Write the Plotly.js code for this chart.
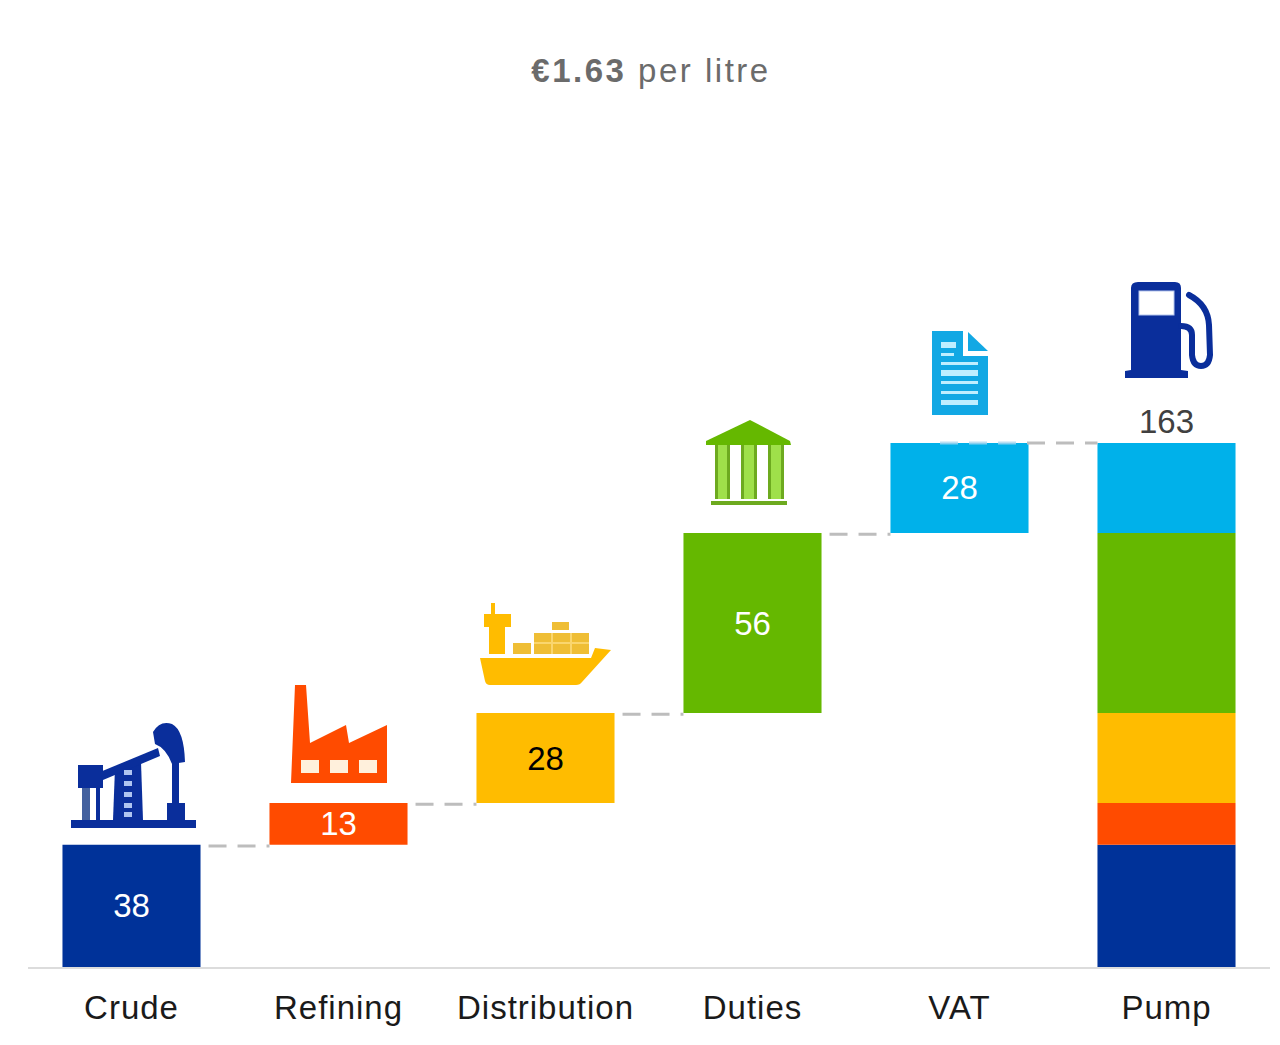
<!DOCTYPE html>
<html>
<head>
<meta charset="utf-8">
<script src="https://cdn.plot.ly/plotly-3.0.1.min.js"></script>
<style>
html,body{margin:0;padding:0;background:#fff}
#chart{width:1280px;height:1045px}
#chart .gtitle{letter-spacing:2.5px}
#chart .xtick text{letter-spacing:1px}
</style>
</head>
<body>
<div id="chart"></div>
<script>
// Data
const categories = ['Crude', 'Refining', 'Distribution', 'Duties', 'VAT', 'Pump'];
const components = [38, 13, 28, 56, 28];
const total = 163;
const colours = ['#003299', '#FF4B00', '#FFBC00', '#65B800', '#00B1EA'];
const labelColours = ['#ffffff', '#ffffff', '#000000', '#ffffff', '#ffffff'];
const titleText = '<b>€1.63</b> per litre';

// Layout constants
const W = 1280, H = 1045, L = 28, R = 10, B = 78;
const yMax = (H - B) / 3.215;
const xMin = -0.5, xMax = 5.5;
const barWidth = 0.667;

const xi = categories.map((_, i) => i);
const bases = [];
components.reduce((s, v, i) => { bases[i] = s; return s + v; }, 0);

// Conversion from page px to axis values (for icons and connector starts only)
const px2x = p => xMin + (p - L) / (W - L - R) * (xMax - xMin);
const px2y = p => (H - B - p) / 3.215;

const traces = [];

// Step bars
traces.push({
  type: 'bar', x: components.map((_, i) => i), y: components, base: bases, width: barWidth,
  marker: { color: colours, line: { width: 0 } },
  text: components.map(String), textposition: 'inside', insidetextanchor: 'middle', textangle: 0,
  constraintext: 'none', cliponaxis: false,
  textfont: { family: 'Liberation Sans, Arial, sans-serif', size: 33, color: labelColours },
  hoverinfo: 'skip', showlegend: false
});
// Pump stacked column
traces.push({
  type: 'bar', x: components.map(() => 5), y: components, base: bases, width: barWidth,
  marker: { color: colours, line: { width: 0 } }, hoverinfo: 'skip', showlegend: false
});
// Connectors
const dashStyle = '18px,11px';
components.forEach((v, i) => {
  const level = bases[i] + v;
  if (i === components.length - 1) {
    // the last connector also runs faintly along the top of the VAT bar
    traces.push({
      type: 'scatter', mode: 'lines', x: [px2x(940), px2x(1026)], y: [level, level],
      line: { color: 'rgba(170,215,240,0.8)', width: 3, dash: dashStyle }, hoverinfo: 'skip', showlegend: false
    });
    traces.push({
      type: 'scatter', mode: 'lines', x: [px2x(1027), i + 1 - barWidth / 2], y: [level, level],
      line: { color: '#BDBDBD', width: 3, dash: dashStyle }, hoverinfo: 'skip', showlegend: false
    });
  } else {
    const startX = i + barWidth / 2 + 8 / 207;
    traces.push({
      type: 'scatter', mode: 'lines', x: [startX, i + 1 - barWidth / 2], y: [level - 0.4, level - 0.4],
      line: { color: '#BDBDBD', width: 3, dash: dashStyle }, hoverinfo: 'skip', showlegend: false
    });
  }
});

// Icons: [left, top, right, bottom] in page px, drawn as inline SVG
const svgUri = (box, body) => {
  const vb = `${box[0]} ${box[1]} ${box[2] - box[0]} ${box[3] - box[1]}`;
  const s = `<svg xmlns="http://www.w3.org/2000/svg" viewBox="${vb}" width="${(box[2]-box[0])*3}" height="${(box[3]-box[1])*3}" preserveAspectRatio="none">${body}</svg>`;
  return 'data:image/svg+xml;base64,' + btoa(s);
};
const N = '#0A2E9B', O = '#FF4B00', Y = '#FFBC00', G = '#65B800', C = '#12A8E4';
const rung = [770, 781, 792, 803, 812].map(y => `<rect x="124" y="${y}" width="8" height="5" fill="#AFC4F0"/>`).join('');
const icons = [
  { box: [70, 722, 197, 828], body: `<g fill="${N}">
    <rect x="71" y="820" width="125" height="8"/>
    <rect x="78" y="765" width="25" height="23"/>
    <rect x="82" y="788" width="8" height="32" fill="#44619F"/><rect x="96" y="788" width="4" height="32"/>
    <polygon points="115,768 141,762 143,820 113,820"/>
    <polygon points="100,772 158,748 160,756 103,780"/>
    <path d="M153,732 Q160,720 172,724 Q184,730 185,762 L172,764 Q166,748 155,744 Z"/>
    <rect x="172" y="762" width="7" height="42"/><rect x="167" y="803" width="18" height="18"/></g>${rung}` },
  { box: [290, 684, 388, 784], body: `<polygon fill="${O}" points="291,783 295,685 306,685 310,743 346,725 349,743 387,725 387,783"/>
    <g fill="#FFF0DC"><rect x="301" y="760" width="18" height="13"/><rect x="330" y="760" width="18" height="13"/><rect x="359" y="760" width="18" height="13"/></g>` },
  { box: [479, 602, 612, 686], body: `<g fill="${Y}"><path d="M480,658 L591,658 L595,648 L611,650 L582,682 Q580,685 576,685 L490,685 Q486,685 485,681 Z"/>
    <rect x="484" y="614" width="27" height="13"/><rect x="489" y="627" width="16" height="27"/><rect x="491" y="603" width="4" height="11"/></g>
    <g fill="#EFBE35"><rect x="513" y="643" width="18" height="11"/><rect x="534" y="633" width="55" height="21"/><rect x="552" y="622" width="17" height="8"/></g>
    <g fill="#FAD66E"><rect x="534" y="642" width="55" height="2"/><rect x="551" y="633" width="2" height="21"/><rect x="570" y="633" width="2" height="21"/></g>` },
  { box: [705, 419, 792, 506], body: `<polygon fill="${G}" points="750,420 790,441 791,445 706,445 706,441"/>
    <g fill="#9FE04A"><rect x="715" y="445" width="15" height="54"/><rect x="741" y="445" width="16" height="54"/><rect x="768" y="445" width="16" height="54"/></g>
    <g fill="#6DAA1F"><rect x="715" y="445" width="3" height="54"/><rect x="727" y="445" width="3" height="54"/><rect x="741" y="445" width="3" height="54"/><rect x="754" y="445" width="3" height="54"/><rect x="768" y="445" width="3" height="54"/><rect x="781" y="445" width="3" height="54"/></g>
    <rect x="711" y="501" width="76" height="4" fill="#6DAA1F"/>` },
  { box: [931, 330, 989, 416], body: `<polygon fill="${C}" points="932,331 963,331 963,356 988,356 988,415 932,415"/><polygon fill="${C}" points="968,332 988,351 968,351"/>
    <g fill="#BFEEFF"><rect x="941" y="342" width="15" height="6"/><rect x="941" y="353" width="13" height="3"/><rect x="941" y="362" width="37" height="3"/><rect x="941" y="370" width="37" height="6"/><rect x="941" y="381" width="37" height="3"/><rect x="941" y="391" width="37" height="3"/><rect x="941" y="400" width="37" height="5"/></g>` },
  { box: [1124, 280, 1215, 380], body: `<path fill="${N}" d="M1131,288 Q1131,282 1138,282 L1175,282 Q1181,282 1181,288 L1181,370 L1188,371 L1188,378 L1125,378 L1125,371 L1131,370 Z"/>
    <rect x="1139" y="291" width="35" height="24" fill="#fff" stroke="#B5C6EE" stroke-width="1"/>
    <path fill="none" stroke="${N}" stroke-width="6" stroke-linecap="round" d="M1189,295 Q1208,305 1209,325 L1210,355 Q1209,366 1201,366 Q1193,366 1192,355 L1192,335 Q1192,326 1181,326"/>` }
];
const images = icons.map(ic => ({
  source: svgUri(ic.box, ic.body), xref: 'x', yref: 'y', layer: 'above',
  x: px2x(ic.box[0]), y: px2y(ic.box[1]),
  sizex: px2x(ic.box[2]) - px2x(ic.box[0]), sizey: px2y(ic.box[1]) - px2y(ic.box[3]),
  xanchor: 'left', yanchor: 'top', sizing: 'stretch'
}));

const layout = {
  width: W, height: H,
  margin: { l: L, r: R, t: 0, b: B, pad: 0 },
  paper_bgcolor: '#fff', plot_bgcolor: '#fff',
  barmode: 'overlay', showlegend: false,
  title: { text: titleText, x: 651 / W, xref: 'container', xanchor: 'center', y: 1 - 70 / H, yref: 'container', yanchor: 'middle',
    font: { family: 'Liberation Sans, Arial, sans-serif', size: 33, color: '#6B6B6B' } },
  xaxis: {
    range: [xMin, xMax], tickmode: 'array', tickvals: xi, ticktext: categories,
    showgrid: false, zeroline: false, showline: true, linecolor: '#DCDCDC', linewidth: 2,
    ticks: 'outside', ticklen: 10, tickcolor: 'rgba(0,0,0,0)',
    tickfont: { family: 'Liberation Sans, Arial, sans-serif', size: 33, color: '#1a1a1a' },
    fixedrange: true, automargin: false
  },
  yaxis: { range: [0, yMax], visible: false, showgrid: false, zeroline: false, fixedrange: true, automargin: false },
  annotations: [{
    x: 5, y: total, xref: 'x', yref: 'y', text: String(total), showarrow: false,
    xanchor: 'center', yanchor: 'bottom', yshift: 1,
    font: { family: 'Liberation Sans, Arial, sans-serif', size: 33, color: '#404040' }
  }],
  images: images
};

Plotly.newPlot('chart', traces, layout, { displayModeBar: false, staticPlot: true, responsive: false });
</script>
</body>
</html>
